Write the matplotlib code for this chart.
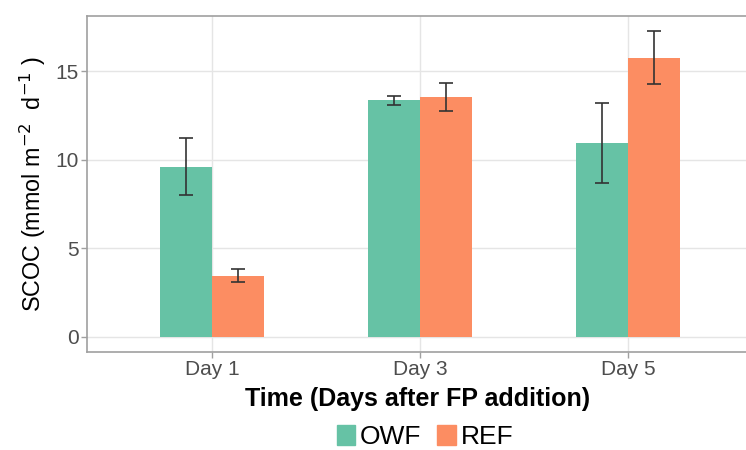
import matplotlib.pyplot as plt
import numpy as np
from matplotlib.patches import Patch

plt.rcParams['font.family'] = ['Liberation Sans', 'DejaVu Sans']

# data
days = ['Day 1', 'Day 3', 'Day 5']
owf = [9.6, 13.35, 10.95]
owf_lo = [8.0, 13.1, 8.7]
owf_hi = [11.2, 13.6, 13.2]
ref = [3.45, 13.55, 15.75]
ref_lo = [3.1, 12.75, 14.25]
ref_hi = [3.8, 14.35, 17.25]

c_owf = '#66C2A5'
c_ref = '#FC8D62'

fig = plt.figure(figsize=(7.46, 4.5), dpi=100)
ax = fig.add_axes([87/746, 1-352/450, (753-87)/746, (352-16)/450])

x = np.arange(1, len(days)+1)
w = 0.25
ax.bar(x - w/2, owf, w, color=c_owf, zorder=2)
ax.bar(x + w/2, ref, w, color=c_ref, zorder=2)

# error bars
for xs, lo, hi in [(x - w/2, owf_lo, owf_hi), (x + w/2, ref_lo, ref_hi)]:
    lo = np.array(lo); hi = np.array(hi)
    mid = (lo + hi)/2
    ax.errorbar(xs, mid, yerr=(hi-lo)/2, fmt='none', ecolor='#333333',
                elinewidth=1.2, capsize=5, capthick=1.2, zorder=3)

ax.set_xlim(0.4, 3.6)
ax.set_ylim(-0.86, 18.11)
ax.set_xticks(x)
ax.set_xticklabels(days)
ax.set_yticks([0, 5, 10, 15])

ax.grid(True, color='#E5E5E5', linewidth=1, zorder=0)
ax.set_axisbelow(True)
for spine in ax.spines.values():
    spine.set_color('#A0A0A0')
    spine.set_linewidth(1.2)
ax.tick_params(colors='#A0A0A0', labelcolor='#4D4D4D', labelsize=15, length=4, width=1)
ax.tick_params(axis='x', pad=2)
ax.tick_params(axis='y', pad=2)

ax.set_ylabel(r'SCOC (mmol m$^{-2}$  d$^{-1}$ )', fontsize=16.8, color='black', labelpad=5)
ax.set_xlabel('Time (Days after FP addition)', fontsize=18, fontweight='bold')
ax.xaxis.label.set_verticalalignment('top')
ax.xaxis.set_label_coords((418-87)/(753-87), -(387-352)/(352-16))

handles = [Patch(color=c_owf, label='OWF'), Patch(color=c_ref, label='REF')]
fig.legend(handles=handles, loc='center', bbox_to_anchor=(425/746, 1-437/450), ncol=2,
           frameon=False, fontsize=19, handlelength=0.7, handleheight=0.8,
           handletextpad=0.18, columnspacing=0.6)

fig.savefig('out.png', dpi=100)
